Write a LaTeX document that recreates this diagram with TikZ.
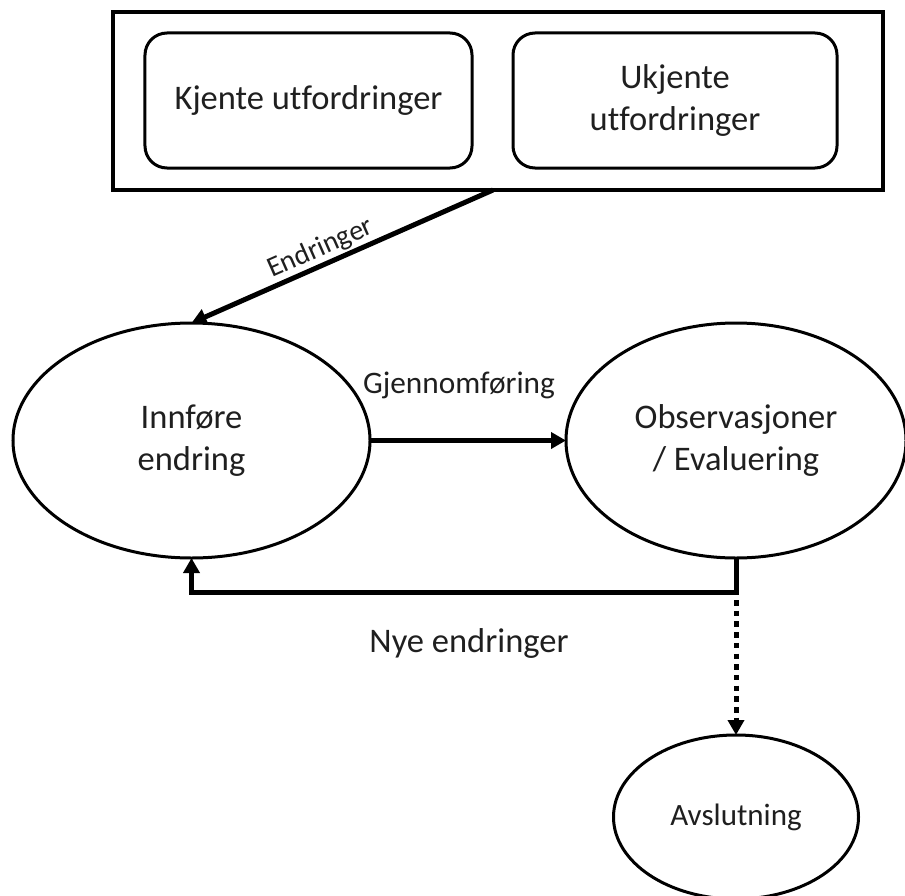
\documentclass[tikz,border=0pt]{standalone}
\usepackage{fontspec}
\setmainfont{Carlito}[Ligatures=CommonOff]
\usetikzlibrary{shapes.geometric,arrows.meta}
\begin{document}
\begin{tikzpicture}[x=1bp,y=-1bp,
  every node/.style={inner sep=0pt, outer sep=0pt, align=center, text=black!88},
  bigtext/.style={font=\fontsize{34.5bp}{42bp}\selectfont},
  challenge/.style={draw, line width=3bp, rounded corners=22bp,
    minimum width=#1, minimum height=135bp, bigtext},
  stage/.style={draw, ellipse, line width=3bp, bigtext},
  >={Triangle[length=15bp,width=16bp]},
  flow/.style={line width=5bp, ->},
  dotflow/.style={line width=5bp, dash pattern=on 5.5bp off 5.2bp, ->},
]
\useasboundingbox (0,0) rectangle (905,896);

% challenges
\node[draw, line width=4bp, minimum width=770bp, minimum height=178bp] (frame) at (498,101) {};
\node[challenge=327bp] (known) at (308.5,100.5) {Kjente utfordringer};
\node[challenge=324bp] (unknown) at (675,100.5) {Ukjente\\utfordringer};

% stages
\node[stage, minimum width=357bp, minimum height=235bp] (intro) at (191.5,440.5) {Innføre\\endring};
\node[stage, minimum width=340bp, minimum height=235bp] (obs) at (736,440.5) {Observasjoner\\/ Evaluering};
\node[draw, ellipse, line width=3bp, minimum width=245bp, minimum height=164bp,
  font=\fontsize{31bp}{36bp}\selectfont] (end) at (736,817) {Avslutning};

% connectors
\draw[line width=5bp, <-] (intro.north) -- ([xshift=-5bp]frame.south)
  node[sloped, above=4bp, pos=0.45, font=\fontsize{28.5bp}{33bp}\selectfont] {Endringer};
\draw[flow] (intro.east) -- (obs.west)
  node[pos=0.454, anchor=base, yshift=47bp, font=\fontsize{31.3bp}{36bp}\selectfont] {Gjennomføring};
\draw[flow] (obs.south) -- ++(0,34) coordinate (turn) -| (intro.south);
\node[bigtext, anchor=base] (again) at (469,652) {Nye endringer};
\draw[dotflow] ([yshift=-8bp]turn) -- (end.north);
\end{tikzpicture}
\end{document}
